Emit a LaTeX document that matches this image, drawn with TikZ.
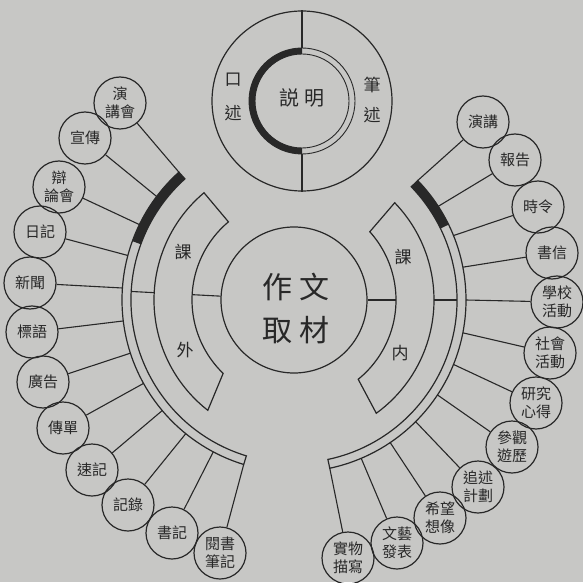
\documentclass[tikz,border=0pt]{standalone}
\usepackage{fontspec}
\newfontfamily\cjk{Noto Sans CJK TC}
\usetikzlibrary{calc}
\definecolor{paper}{RGB}{199,199,197}
\definecolor{ink}{RGB}{40,40,40}
\begin{document}
\begin{tikzpicture}[x=1pt,y=1pt,line width=1.2pt,draw=ink,
  sat/.style={draw=ink,circle,minimum size=52pt,inner sep=0pt,align=center,
    font=\cjk\fontsize{15}{18}\selectfont,text=ink},
  lbl/.style={font=\cjk\fontsize{17}{20}\selectfont,text=ink,inner sep=0pt},
  conn/.style={draw=ink,line width=1.1pt}]
\fill[paper] (0,0) rectangle (583,582);
\useasboundingbox (0,0) rectangle (583,582);

% ---------- centre ----------
\coordinate (C) at (294,282);
\node[draw=ink,circle,minimum size=146pt,inner sep=0pt] (core) at (C) {};
\node[font=\cjk\fontsize{30}{43}\selectfont,align=center,inner sep=0pt,text=ink] (coretext) at (296,274) {作\hspace{8pt}文\\取\hspace{8pt}材};

% inner bands
\draw ([shift={(C)}]130:140) arc[start angle=130,end angle=232,radius=140]
  -- ([shift={(C)}]226:102) arc[start angle=226,end angle=130,radius=102] -- cycle;
\draw ([shift={(C)}]44:140) arc[start angle=44,end angle=-54,radius=140]
  -- ([shift={(C)}]-51:102) arc[start angle=-51,end angle=42,radius=102] -- cycle;
\node[lbl] (keL) at (183,330) {課};
\node[lbl] (wai) at (185,232) {外};
\node[lbl] (keR) at (403,325) {課};
\node[lbl] (nei) at (400,229) {内};

% outer double arcs with dark parts
\fill[ink] ([shift={(C)}]132:172) arc[start angle=132,end angle=160,radius=172]
  -- ([shift={(C)}]160:163) arc[start angle=160,end angle=132,radius=163] -- cycle;
\fill[ink] ([shift={(C)}]44:172) arc[start angle=44,end angle=26,radius=172]
  -- ([shift={(C)}]26:163) arc[start angle=26,end angle=44,radius=163] -- cycle;
\draw ([shift={(C)}]132:172) arc[start angle=132,end angle=253,radius=172]
  -- ([shift={(C)}]253:163) arc[start angle=253,end angle=132,radius=163] -- cycle;
\draw ([shift={(C)}]44:172) arc[start angle=44,end angle=-78,radius=172]
  -- ([shift={(C)}]-78:163) arc[start angle=-78,end angle=44,radius=163] -- cycle;

% centre to bands to outer arcs
\coordinate (bLi) at ([shift={(C)}]177:102);
\coordinate (bLo) at ([shift={(C)}]177:140);
\coordinate (oLi) at ([shift={(C)}]177:163);
\coordinate (bRi) at ([shift={(C)}]0:102);
\coordinate (bRo) at ([shift={(C)}]0:140);
\coordinate (oRi) at ([shift={(C)}]0:163);
\draw[conn] (core) -- (bLi);
\draw[conn] (bLo) -- (oLi);
\draw[conn] (core) -- (bRi);
\draw[conn] (bRo) -- (oRi);

% ---------- top circle ----------
\coordinate (TC) at (302,481);
\node[draw=ink,circle,minimum size=180pt,inner sep=0pt] (T) at (TC) {};
\fill[ink] ([shift={(TC)}]90:53) arc[start angle=90,end angle=270,radius=53]
  -- ([shift={(TC)}]270:47) arc[start angle=270,end angle=90,radius=47] -- cycle;
\node[draw=ink,circle,minimum size=106pt,inner sep=0pt,line width=0.9pt] (Tout) at (TC) {};
\node[draw=ink,circle,minimum size=94pt,inner sep=0pt,line width=0.9pt] (Tin) at (TC) {};
\draw (T.north) -- (Tout.north);
\draw (T.south) -- (Tout.south);
\node[font=\cjk\fontsize{20}{20}\selectfont,text=ink,inner sep=0pt] (shuoming) at (302,484) {説\hspace{5pt}明};
\node[lbl] (kou) at (233,502) {口};
\node[lbl] (shuA) at (233,469) {述};
\node[lbl] (bi) at (372,497) {筆};
\node[lbl] (shuB) at (372,467) {述};

% ---------- left satellites ----------
\node[sat] (L1) at (120,479) {演\\講會};
\node[sat] (L2) at (85,444) {宣傳};
\node[sat] (L3) at (59,395) {辯\\論會};
\node[sat] (L4) at (40,350) {日記};
\node[sat] (L5) at (30,299) {新聞};
\node[sat] (L6) at (32,250) {標語};
\node[sat] (L7) at (43,200) {廣告};
\node[sat] (L8) at (63,154) {傳單};
\node[sat] (L9) at (92,112) {速記};
\node[sat] (L10) at (128,77) {記錄};
\node[sat] (L11) at (172,49) {書記};
\node[sat] (L12) at (220,29) {閱書\\筆記};
\foreach \i/\a in {1/132,2/143,3/154,4/165,5/176,6/187,7/198,8/209,9/220,10/231,11/242,12/253}{
  \coordinate (aL\i) at ([shift={(C)}]\a:172);
  \draw[conn] (L\i) -- (aL\i);
}

% ---------- right satellites ----------
\node[sat] (R1) at (483,460) {演講};
\node[sat] (R2) at (515,422) {報告};
\node[sat] (R3) at (538,375) {時令};
\node[sat] (R4) at (552,329) {書信};
\node[sat] (R5) at (557,280) {學校\\活動};
\node[sat] (R6) at (550,229) {社會\\活動};
\node[sat] (R7) at (536,179) {研究\\心得};
\node[sat] (R8) at (512,135) {參觀\\遊歷};
\node[sat] (R9) at (478,95) {追述\\計劃};
\node[sat] (R10) at (440,64) {希望\\想像};
\node[sat] (R11) at (397,39) {文藝\\發表};
\node[sat] (R12) at (348,24) {實物\\描寫};
\foreach \i/\a in {1/44,2/33,3/22,4/11,5/0,6/-11,7/-22,8/-33.5,9/-45,10/-56,11/-67,12/-78}{
  \coordinate (aR\i) at ([shift={(C)}]\a:172);
  \draw[conn] (R\i) -- (aR\i);
}
\end{tikzpicture}
\end{document}
